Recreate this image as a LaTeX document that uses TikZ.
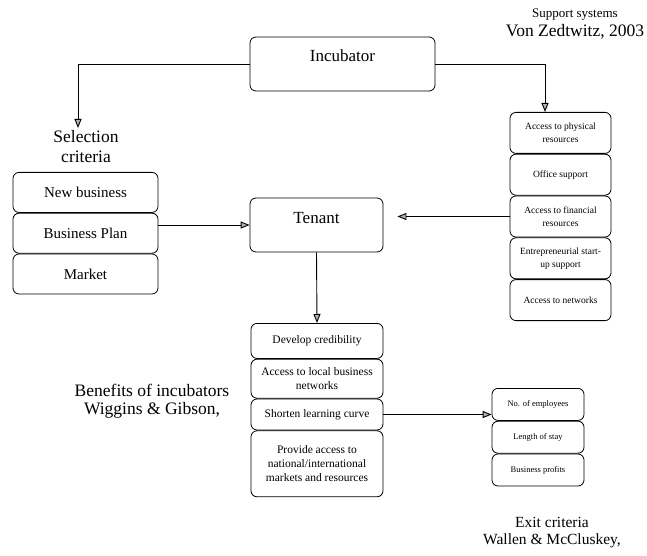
\documentclass[tikz,border=0pt]{standalone}
\usepackage{fontspec}
\setmainfont{Liberation Serif}
\usetikzlibrary{arrows.meta,positioning}

\begin{document}
\begin{tikzpicture}[x=1pt,y=-1pt,
    box/.style={draw, rounded corners=6pt, line width=0.8pt, inner sep=1pt, align=center},
    mainbox/.style={box, inner sep=0pt, text height=25pt, text depth=29pt, font=\rmfamily\fontsize{17}{19}\selectfont},
    selbox/.style={box, minimum width=145pt, minimum height=40pt, font=\rmfamily\fontsize{15}{17}\selectfont},
    supbox/.style={box, minimum width=101pt, minimum height=41pt, font=\rmfamily\fontsize{9.5}{13}\selectfont},
    benbox/.style={box, minimum width=132pt, font=\rmfamily\fontsize{11.5}{14}\selectfont},
    exitbox/.style={box, minimum width=92pt, minimum height=32pt, font=\rmfamily\fontsize{8.5}{10}\selectfont},
    heading/.style={align=center, font=\rmfamily\fontsize{17.5}{19}\selectfont},
    link/.style={line width=0.9pt, -{Triangle[length=9pt,width=7pt,fill=gray!60]}}]
    \useasboundingbox (0,0) rectangle (647,556);
    % main boxes
    \node[mainbox, minimum width=185pt] (incubator) at (342.5,64) {Incubator};
    \node[mainbox, minimum width=133pt] (tenant) at (316.5,225) {Tenant};
    % selection criteria
    \node[heading, font=\rmfamily\fontsize{17.5}{20}\selectfont] (seltitle) at (86,147) {Selection\\criteria};
    \coordinate (selin) at (78,128);
    \node[selbox, anchor=north] (sel1) at (85.5,172) {New business};
    \node[selbox, below=0pt of sel1] (sel2) {Business Plan};
    \node[selbox, below=0pt of sel2] (sel3) {Market};
    % support systems
    \node[font=\rmfamily\fontsize{13}{15}\selectfont] (supttl) at (575,15) {Support systems};
    \node[heading] (supsrc) at (575,32) {Von Zedtwitz, 2003};
    \node[supbox, anchor=north] (sup1) at (560.5,112) {Access to physical\\resources};
    \node[supbox, below=0pt of sup1] (sup2) {Office support};
    \node[supbox, below=0pt of sup2] (sup3) {Access to financial\\resources};
    \node[supbox, below=0pt of sup3] (sup4) {Entrepreneurial start-\\up support};
    \node[supbox, below=0pt of sup4] (sup5) {Access to networks};
    % benefits
    \node[heading, font=\rmfamily\fontsize{17.5}{18}\selectfont] (bentitle) at (152,401) {Benefits of incubators\\Wiggins \& Gibson,};
    \node[benbox, minimum height=35pt, anchor=north] (ben1) at (317,323) {Develop credibility};
    \node[benbox, minimum height=39pt, below=0pt of ben1] (ben2) {Access to local business\\networks};
    \node[benbox, minimum height=31pt, below=0pt of ben2] (ben3) {Shorten learning curve};
    \node[benbox, minimum height=66pt, below=0pt of ben3] (ben4) {Provide access to\\national/international\\markets and resources};
    % exit criteria
    \node[exitbox, anchor=north] (ex1) at (538,388) {No. of employees};
    \node[exitbox, below=0pt of ex1] (ex2) {Length of stay};
    \node[exitbox, below=0pt of ex2] (ex3) {Business profits};
    \node[heading, font=\rmfamily\fontsize{15.5}{17}\selectfont] (exittitle) at (552,533) {Exit criteria\\Wallen \& McCluskey,};
    % connectors
    \draw[link] (incubator.west) -| (selin);
    \draw[link] (incubator.east) -| ([xshift=-15.5pt]sup1.north);
    \draw[link] (sel2.east |- tenant.west) -- (tenant.west);
    \draw[link, shorten >=14pt] (sup3.west) -- (sup3.west -| tenant.east);
    \draw[link] (tenant.south) -- (ben1.north);
    \draw[link] (ben3.east) -- (ben3.east -| ex1.west);
\end{tikzpicture}
\end{document}
